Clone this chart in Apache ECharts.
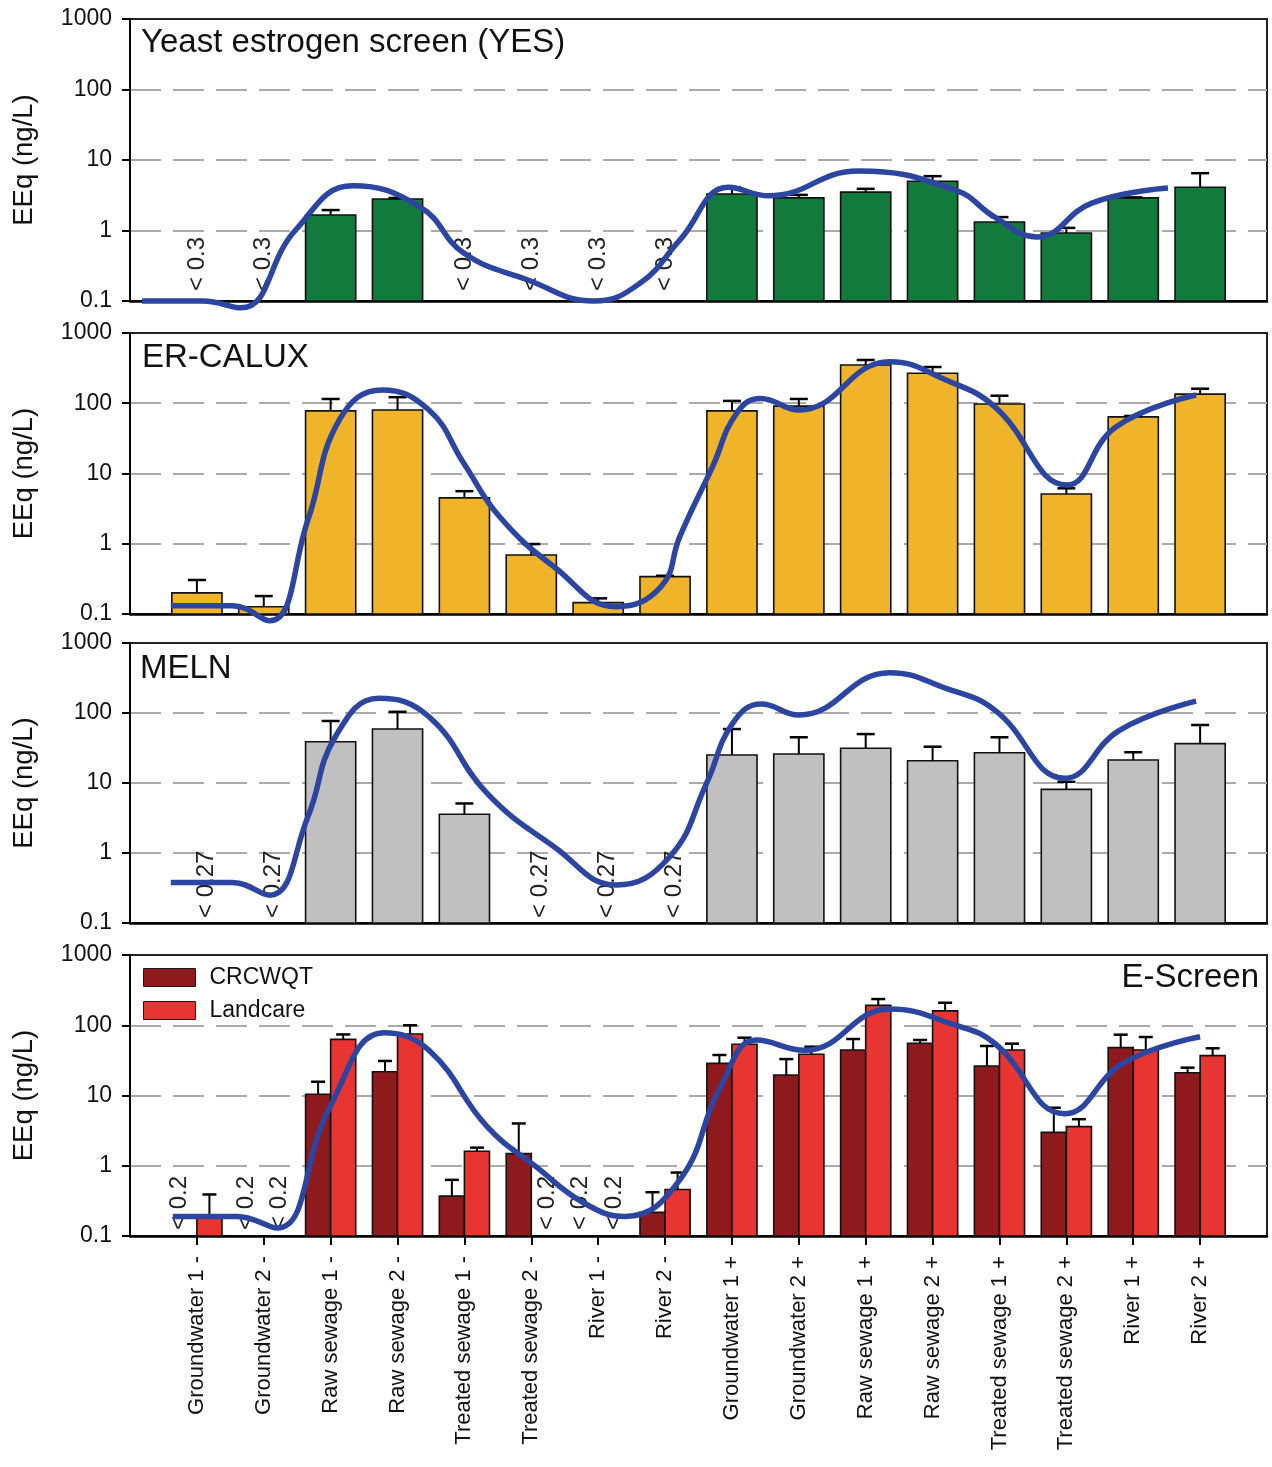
<!DOCTYPE html>
<html><head><meta charset="utf-8">
<script src="https://cdn.jsdelivr.net/npm/echarts@6/dist/echarts.min.js"></script>
<style>html,body{margin:0;padding:0;background:#fff}#c{width:1272px;height:1467px}</style>
</head><body><div id="c"></div><script>
const categories = ['Groundwater 1 -','Groundwater 2 -','Raw sewage 1 -','Raw sewage 2 -','Treated sewage 1 -','Treated sewage 2 -','River 1 -','River 2 -','Groundwater 1 +','Groundwater 2 +','Raw sewage 1 +','Raw sewage 2 +','Treated sewage 1 +','Treated sewage 2 +','River 1 +','River 2 +'];
const catPos = [1,2,3,4,5,6,7,8,9,10,11,12,13,14,15,16];
const yTickLabels = ['0.1','1','10','100','1000'];
const panelTitles = ['Yeast estrogen screen (YES)','ER-CALUX','MELN','E-Screen'];

// YES
const yesValues = [null,null,1.66,2.8,null,null,null,null,3.3,2.9,3.5,5.0,1.32,0.92,2.9,4.1];
const yesErrTop = [null,null,1.95,2.9,null,null,null,null,4.1,3.2,3.9,5.9,1.55,1.09,2.95,6.5];
const yesLOD = ['< 0.3','< 0.3',null,null,'< 0.3','< 0.3','< 0.3','< 0.3',null,null,null,null,null,null,null,null];
const yesTrendX = [0.18,1.09,1.66,2.47,3.33,4.34,4.99,5.94,6.94,7.63,8.22,8.95,9.55,10.89,12.34,12.93,13.56,14.38,15.52];
const yesTrendY = [0.1,0.1,0.08,1.0,4.3,2.15,0.48,0.2,0.1,0.18,0.73,4.1,3.1,7.0,3.75,1.55,0.81,2.45,4.0];

// ER-CALUX
const erValues = [0.2,0.127,78,80,4.5,0.69,0.145,0.34,78,91,350,267,97.5,5.1,64,135];
const erErrTop = [0.305,0.18,115,122,5.6,0.99,0.167,0.35,108,115,413,328,128,6.15,66,161];
const erTrendX = [0.61,1.53,2.09,2.66,3.13,3.77,4.47,4.99,5.53,6.34,7.27,7.94,8.22,8.71,9.07,9.43,10.0,11.36,12.2,12.93,14.01,14.74,15.94];
const erTrendY = [0.131,0.131,0.08,2.18,57.8,155,80,14,2.4,0.47,0.127,0.245,1.26,12.5,72,117,80,390,214,89,6.85,46,131];

// MELN
const melnValues = [null,null,38.9,59,3.57,null,null,null,25.1,26,31.3,20.8,27.1,8.1,21.3,36.5];
const melnErrTop = [null,null,76.9,104,5.1,null,null,null,59,45,50,33,45,10.4,27.5,67.4];
const melnLOD = ['< 0.27','< 0.27',null,null,null,'< 0.27','< 0.27','< 0.27',null,null,null,null,null,null,null,null];
const melnTrendX = [0.61,1.53,2.09,2.66,3.07,3.72,4.47,5.34,6.34,7.27,8.07,8.62,9.01,9.44,10.0,11.36,12.2,12.93,13.98,14.8,15.94];
const melnTrendY = [0.38,0.38,0.25,3.3,45.8,162,88.5,7.1,1.23,0.35,0.885,9.9,71,134,93.6,377,225,110,11.7,57,148];

// E-Screen
const crcValues = [null,null,10.4,21.8,0.37,1.49,null,0.217,28.7,19.6,44.4,55.4,26.3,2.99,48,21.1];
const crcErrTop = [null,null,15.7,31,0.63,4.0,null,0.42,37.7,33,63.7,61.7,50.7,6.7,73.4,24.9];
const crcLOD = ['< 0.2','< 0.2',null,null,null,null,'< 0.2',null,null,null,null,null,null,null,null,null];
const landValues = [0.186,null,63,75,1.61,null,null,0.46,53.6,38.6,192,160,44.4,3.6,44.4,36.9];
const landErrTop = [0.39,null,74,100,1.81,null,null,0.80,66.5,49.5,236,209,54.7,4.6,68,47];
const landLOD = [null,'< 0.2',null,null,null,'< 0.2','< 0.2',null,null,null,null,null,null,null,null,null];
const esTrendX = [0.64,1.6,2.2,2.99,3.8,4.47,5.34,6.07,6.8,7.4,8.22,8.83,9.37,10.09,11.36,12.33,12.93,13.98,14.86,16.0];
const esTrendY = [0.19,0.19,0.13,6.9,78,44,3.6,0.97,0.29,0.19,0.63,13.3,61.6,44,170,101,55,5.5,29.3,68.7];

const FONT = "'Liberation Sans', Arial, sans-serif";
const BLUE = '#2b45a1';

function barData(vals, errs) {
  const out = [];
  vals.forEach((v, i) => { if (v != null) out.push([catPos[i], v, errs[i] == null ? NaN : errs[i]]); });
  return out;
}
function lodData(labels) {
  const out = [];
  labels.forEach((t, i) => { if (t != null) out.push([catPos[i], 0.1, i]); });
  return out;
}
function barRender(x0, x1, capHalf, fill) {
  return function (params, api) {
    const x = api.value(0), v = api.value(1), e = api.value(2);
    const pL = api.coord([x + x0, v]);
    const pR = api.coord([x + x1, v]);
    const base = api.coord([x + x0, 0.1]);
    const cx = (pL[0] + pR[0]) / 2;
    const children = [{
      type: 'rect',
      shape: { x: pL[0], y: pL[1], width: pR[0] - pL[0], height: base[1] - pL[1] },
      style: { fill: fill, stroke: '#111', lineWidth: 1.6 }
    }];
    if (!isNaN(e)) {
      const pe = api.coord([x, e]);
      children.push({ type: 'line', shape: { x1: cx, y1: pL[1], x2: cx, y2: pe[1] }, style: { stroke: '#000', lineWidth: 2 } });
      children.push({ type: 'line', shape: { x1: cx - capHalf, y1: pe[1], x2: cx + capHalf, y2: pe[1] }, style: { stroke: '#000', lineWidth: 2.5 } });
    }
    return { type: 'group', children: children };
  };
}
function lodRender(labels, dx, lift, size) {
  return function (params, api) {
    const p = api.coord([api.value(0) + dx, api.value(1)]);
    return {
      type: 'text', x: p[0], y: p[1] - lift, rotation: Math.PI / 2,
      style: { text: labels[api.value(2)], fill: '#222', fontSize: size, fontFamily: FONT, align: 'left', verticalAlign: 'middle' }
    };
  };
}

const gridTops = [19, 333, 643, 955];
const gridHeights = [282, 281, 280, 281];
const grids = gridTops.map((t, i) => ({ left: 130, right: 5, top: t, height: gridHeights[i], show: true, borderColor: '#222', borderWidth: 2, backgroundColor: 'transparent' }));

const xAxes = gridTops.map((t, i) => ({
  type: 'value', gridIndex: i, min: 0, max: 17,
  axisLine: { show: true, onZero: false, lineStyle: { color: '#000', width: 2.5 } },
  axisTick: i === 3 ? { show: true, customValues: catPos, length: 9, lineStyle: { color: '#000', width: 2 } } : { show: false },
  axisLabel: i === 3 ? {
    show: true, customValues: catPos, rotate: 90, margin: 20, fontSize: 22, color: '#111', fontFamily: FONT,
    formatter: v => categories[catPos.indexOf(v)]
  } : { show: false },
  splitLine: { show: false }
}));

const yAxes = gridTops.map((t, i) => ({
  type: 'log', logBase: 10, gridIndex: i, min: 0.1, max: 1000,
  name: 'EEq (ng/L)', nameLocation: 'middle', nameGap: 92,
  nameTextStyle: { fontSize: 27.5, color: '#111', fontFamily: FONT },
  axisLine: { show: true, lineStyle: { color: '#000', width: 2 } },
  axisTick: { show: true, length: 8, lineStyle: { color: '#000', width: 2 } },
  axisLabel: { fontSize: 23, color: '#111', fontFamily: FONT, margin: 18, formatter: (v, idx) => yTickLabels[idx] },
  splitLine: { show: true, showMinLine: false, showMaxLine: false, lineStyle: { color: '#aaa', width: 2, type: [31, 12] } }
}));

function trend(xs, ys, gi) {
  return {
    type: 'line', xAxisIndex: gi, yAxisIndex: gi, data: xs.map((x, k) => [x, ys[k]]),
    smooth: 0.45, symbol: 'none', clip: false, z: 5, silent: true,
    lineStyle: { color: BLUE, width: 5.5 }
  };
}

const series = [
  { type: 'custom', name: 'YES', xAxisIndex: 0, yAxisIndex: 0, data: barData(yesValues, yesErrTop), renderItem: barRender(-0.375, 0.375, 9, '#137a3e'), z: 2 },
  { type: 'custom', name: 'YESLOD', xAxisIndex: 0, yAxisIndex: 0, data: lodData(yesLOD), renderItem: lodRender(yesLOD, 0, 10, 24), z: 3 },
  trend(yesTrendX, yesTrendY, 0),

  { type: 'custom', name: 'ER', xAxisIndex: 1, yAxisIndex: 1, data: barData(erValues, erErrTop), renderItem: barRender(-0.375, 0.375, 9, '#efb42a'), z: 2 },
  trend(erTrendX, erTrendY, 1),

  { type: 'custom', name: 'MELN', xAxisIndex: 2, yAxisIndex: 2, data: barData(melnValues, melnErrTop), renderItem: barRender(-0.375, 0.375, 9, '#c0c0c0'), z: 2 },
  { type: 'custom', name: 'MELNLOD', xAxisIndex: 2, yAxisIndex: 2, data: lodData(melnLOD), renderItem: lodRender(melnLOD, 0.14, 5, 24), z: 3 },
  trend(melnTrendX, melnTrendY, 2),

  { type: 'custom', name: 'CRCWQT', xAxisIndex: 3, yAxisIndex: 3, data: barData(crcValues, crcErrTop), renderItem: barRender(-0.375, 0, 7, '#8f1a1e'), itemStyle: { color: '#8f1a1e' }, z: 2 },
  { type: 'custom', name: 'Landcare', xAxisIndex: 3, yAxisIndex: 3, data: barData(landValues, landErrTop), renderItem: barRender(0, 0.375, 7, '#e83532'), itemStyle: { color: '#e83532' }, z: 2 },
  { type: 'custom', name: 'CRCLOD', xAxisIndex: 3, yAxisIndex: 3, data: lodData(crcLOD), renderItem: lodRender(crcLOD, -0.26, 6, 24), z: 3 },
  { type: 'custom', name: 'LandLOD', xAxisIndex: 3, yAxisIndex: 3, data: lodData(landLOD), renderItem: lodRender(landLOD, 0.24, 6, 24), z: 3 },
  trend(esTrendX, esTrendY, 3)
];

const titles = [
  { text: panelTitles[0], left: 141, top: 26 },
  { text: panelTitles[1], left: 142, top: 341 },
  { text: panelTitles[2], left: 140, top: 652 },
  { text: panelTitles[3], right: 13, top: 961 }
].map(t => Object.assign(t, { padding: 0, textStyle: { fontSize: 33, fontWeight: 'normal', color: '#111', fontFamily: FONT } }));

const chart = echarts.init(document.getElementById('c'), null, { renderer: 'canvas' });
chart.setOption({
  animation: false,
  backgroundColor: '#fff',
  title: titles,
  legend: {
    orient: 'vertical', left: 143, top: 966, padding: 0, itemWidth: 52, itemHeight: 18, itemGap: 10,
    icon: 'rect', selectedMode: false,
    textStyle: { fontSize: 23, color: '#111', fontFamily: FONT, padding: [0, 0, 0, 9] },
    data: [
      { name: 'CRCWQT', itemStyle: { color: '#8f1a1e', borderColor: '#1a1a1a', borderWidth: 1 } },
      { name: 'Landcare', itemStyle: { color: '#e83532', borderColor: '#1a1a1a', borderWidth: 1 } }
    ]
  },
  grid: grids,
  xAxis: xAxes,
  yAxis: yAxes,
  series: series
});
</script></body></html>
